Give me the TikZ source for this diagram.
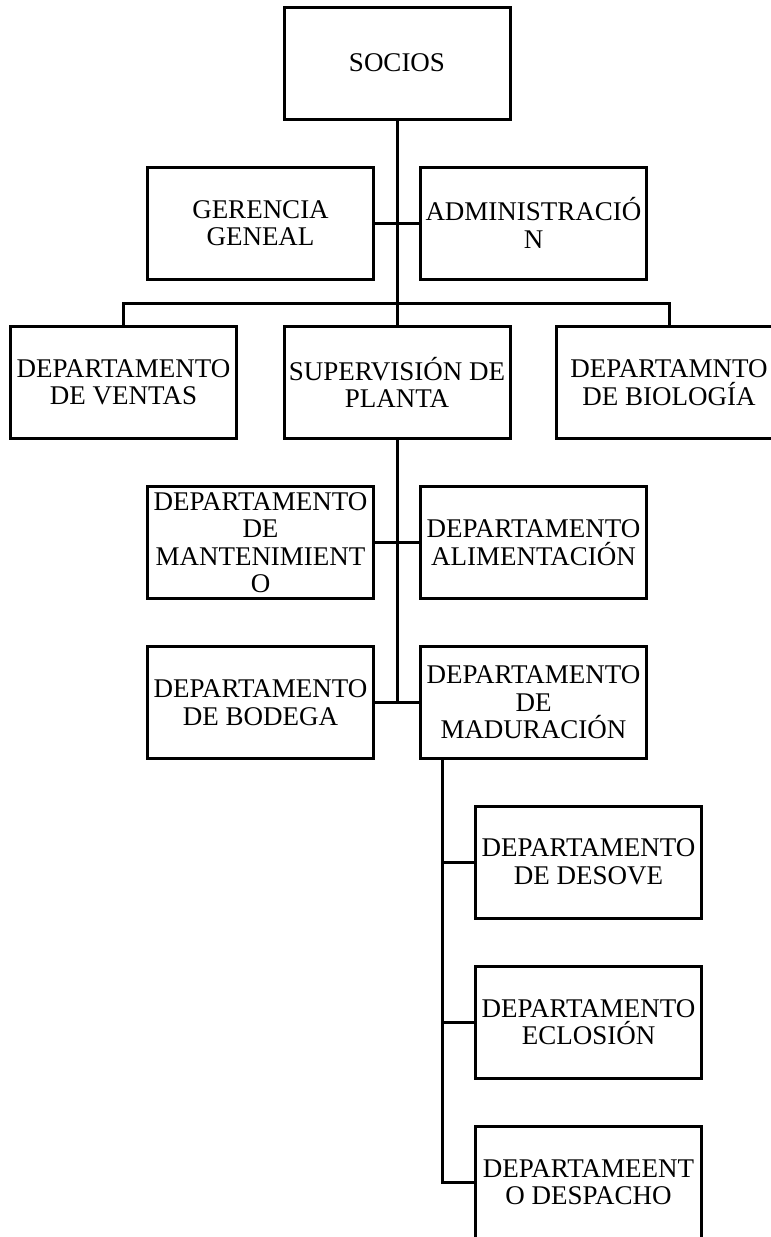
\documentclass[tikz,border=0pt]{standalone}
\usepackage{fontspec}
\setmainfont{Liberation Serif}
\begin{document}
\begin{tikzpicture}[x=1pt,y=-1pt,
  orgbox/.style={draw, line width=3pt, minimum width=226pt, minimum height=112pt,
    align=center, inner sep=0pt, font=\fontsize{27}{27.5}\selectfont},
  link/.style={line width=3pt}]
\clip (0,0) rectangle (771,1237);
\fill[white] (0,0) rectangle (771,1237);
\node[orgbox] (soc) at (397,63) {SOCIOS};
\node[orgbox] (ger) at (260.5,223) {GERENCIA\\GENEAL};
\node[orgbox] (adm) at (533.5,223) {ADMINISTRACIÓ\\N};
\node[orgbox] (ven) at (123.5,382.5) {DEPARTAMENTO\\DE VENTAS};
\node[orgbox] (sup) at (397,382.5) {SUPERVISIÓN DE\\PLANTA};
\node[orgbox] (bio) at (669,382.5) {DEPARTAMNTO\\DE BIOLOGÍA};
\node[orgbox] (man) at (260.5,542.5) {DEPARTAMENTO\\DE\\MANTENIMIENT\\O};
\node[orgbox] (ali) at (533.5,542.5) {DEPARTAMENTO\\ALIMENTACIÓN};
\node[orgbox] (bod) at (260.5,702.5) {DEPARTAMENTO\\DE BODEGA};
\node[orgbox] (mad) at (533.5,702.5) {DEPARTAMENTO\\DE\\MADURACIÓN};
\node[orgbox] (des) at (588.5,862) {DEPARTAMENTO\\DE DESOVE};
\node[orgbox] (ecl) at (588.5,1022) {DEPARTAMENTO\\ECLOSIÓN};
\node[orgbox] (dsp) at (588.5,1182) {DEPARTAMEENT\\O DESPACHO};
% main trunk
\coordinate (bus) at (397,303);
\draw[link] (soc.south) -- (sup.north);
\draw[link] (ger.east) -- (adm.west);
\draw[link] (ven.north) |- (bus) -| (bio.north);
\coordinate (low) at (397,702.5);
\draw[link] (sup.south) -- (low);
\draw[link] (man.east) -- (ali.west);
\draw[link] (bod.east) -- (mad.west);
% maduración branch
\coordinate (trunk) at ([xshift=23pt]mad.south west);
\draw[link] (trunk) |- (dsp.west);
\draw[link] (trunk |- des.west) -- (des.west);
\draw[link] (trunk |- ecl.west) -- (ecl.west);
\end{tikzpicture}
\end{document}
